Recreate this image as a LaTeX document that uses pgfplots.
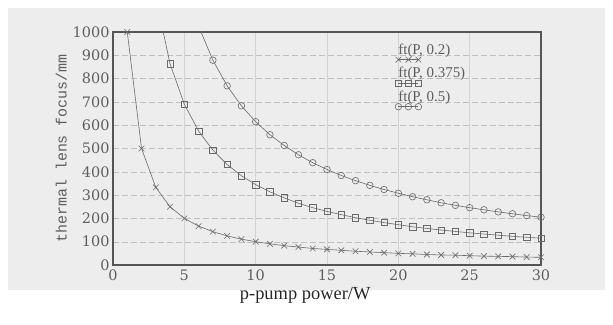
\documentclass[border=0pt]{standalone}
\usepackage{fontspec}
\setmainfont{Liberation Serif}
\setmonofont{Liberation Mono}
\newfontfamily\tickfont{DejaVu Serif}
\usepackage{pgfplots}
\pgfplotsset{compat=1.18}
\definecolor{bg}{HTML}{EDEDED}
\definecolor{ink}{HTML}{5E5E5E}
\definecolor{frame}{HTML}{555555}
\definecolor{curve}{HTML}{6A6A6A}
\begin{document}
\begin{tikzpicture}
\useasboundingbox (-113bp,-60bp) rectangle (500bp,265bp);
\fill[bg] (-105bp,-25bp) rectangle (492bp,257bp);
\begin{axis}[
  at={(0,0)}, anchor=south west,
  scale only axis, width=428bp, height=233bp,
  xmin=0, xmax=30, ymin=0, ymax=1000,
  xtick={0,5,...,30}, ytick={0,100,...,1000},
  grid=major,
  x grid style={gray!35, line width=0.4pt},
  y grid style={gray!50, dash pattern=on 6pt off 3pt, line width=0.4pt},
  axis line style={frame, line width=1.1pt},
  tick style={draw=none},
  /pgf/number format/assume math mode=true,
  /pgf/number format/1000 sep={},
  ticklabel style={font=\tickfont\fontsize{14.5}{15}\selectfont, text=ink},
  xticklabel style={yshift=-1bp},
  ylabel={\ttfamily thermal lens focus/mm},
  ylabel style={at={(axis description cs:-0.121,0.5)}, anchor=center, font=\fontsize{15}{16}\selectfont, text=ink},
  xlabel={p-pump power/W},
  xlabel style={at={(axis description cs:0.449,-0.129)}, anchor=center, font=\fontsize{18.5}{19}\selectfont, text=black!85},
  legend style={draw=none, fill=none, at={(rel axis cs:0.664,0.955)}, anchor=north west,
    font=\fontsize{15}{15}\selectfont, text=ink, row sep=9.5bp, inner sep=0pt,
    nodes={inner sep=1pt}, column sep=0pt},
  legend cell align=left,
  legend image code/.code={\draw[#1, overlay] plot coordinates {(1bp,-10bp) (11bp,-10bp) (21bp,-10bp)};},
  every axis plot/.append style={curve, line width=0.6pt},
]
\addplot[mark=x, mark size=4bp, mark options={solid}] coordinates {
(1,1000) (2,500) (3,333) (4,250) (5,200) (6,167) (7,143) (8,125) (9,111) (10,100)
(11,91) (12,83) (13,77) (14,71) (15,67) (16,63) (17,59) (18,56) (19,53) (20,50)
(21,48) (22,45) (23,43) (24,42) (25,40) (26,38) (27,37) (28,36) (29,34) (30,33)};
\addlegendentry{ft(P, 0.2)}
\addplot[forget plot] coordinates {(3,1150) (4,863)};
\addplot[mark=square, mark size=3.2bp, mark options={solid}] coordinates {
(4,863) (5,690) (6,575) (7,493) (8,431) (9,383) (10,345)
(11,314) (12,288) (13,265) (14,246) (15,230) (16,216) (17,203) (18,192) (19,182) (20,173)
(21,164) (22,157) (23,150) (24,144) (25,138) (26,133) (27,128) (28,123) (29,119) (30,115)};
\addlegendentry{ft(P, 0.375)}
\addplot[forget plot] coordinates {(6,1025) (7,879)};
\addplot[mark=o, mark size=3.3bp, mark options={solid}] coordinates {
(7,879) (8,769) (9,683) (10,615)
(11,559) (12,513) (13,473) (14,439) (15,410) (16,384) (17,362) (18,342) (19,324) (20,308)
(21,293) (22,280) (23,267) (24,256) (25,246) (26,237) (27,228) (28,220) (29,212) (30,205)};
\addlegendentry{ft(P, 0.5)}
\end{axis}
\end{tikzpicture}
\end{document}
